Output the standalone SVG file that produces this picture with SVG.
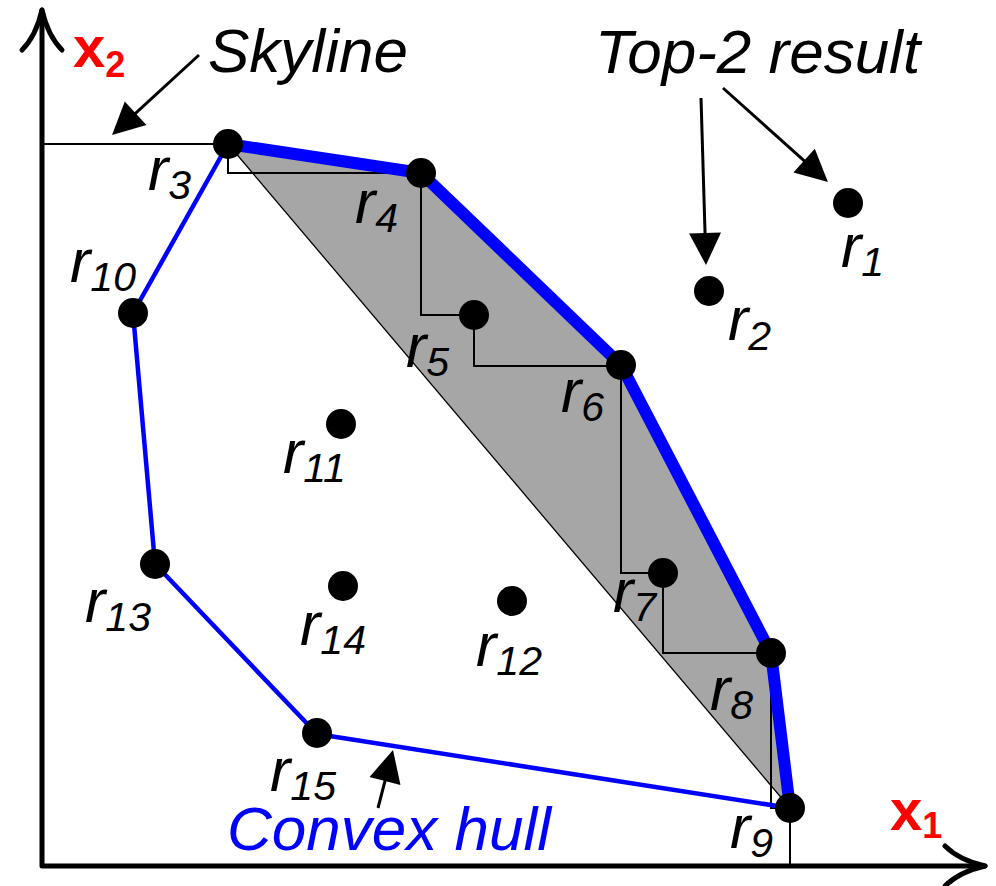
<svg xmlns="http://www.w3.org/2000/svg" width="996" height="886" viewBox="0 0 996 886">
<style>
.lbl{font-family:"Liberation Sans",Arial,sans-serif;font-style:italic;font-size:61px;fill:#000}
.big{font-size:62px}
.sub{font-size:41px}
.ax{font-family:"Liberation Sans",Arial,sans-serif;font-weight:bold;font-size:58px;fill:#ff0000}
.axs{font-size:36px}
.dot{fill:#000}
.axis{fill:none;stroke:#000;stroke-width:5;stroke-linecap:round;stroke-linejoin:round}
.arr{stroke:#000;stroke-width:3;fill:none;marker-end:url(#head)}
</style>
<defs>
<marker id="head" markerUnits="userSpaceOnUse" markerWidth="34" markerHeight="34" viewBox="0 -17 32 34" refX="22" refY="0" orient="auto">
<path d="M0,-16 L32,0 L0,16 z" fill="#000"/>
</marker>
</defs>
<rect width="996" height="886" fill="#fff"/>
<g id="region">
<polygon points="228,144 421,173 621,365 771,653 790,808" fill="#a6a6a6"/>
</g>
<g id="connectors">
<path d="M42,144 H228 V173 H421 V315 H474 V366 H621 V573 H663 V653 H771 V808 H790 V866" fill="none" stroke="#000" stroke-width="2"/>
<line x1="228" y1="144" x2="790" y2="808" stroke="#000" stroke-width="1.3"/>
<polyline points="228,144 421,173 621,365 771,653 790,808" fill="none" stroke="#0000ff" stroke-width="12" stroke-linejoin="round"/>
<polyline points="228,144 133,313 155,564 317,734 790,808" fill="none" stroke="#0000ff" stroke-width="4.5" stroke-linejoin="round"/>
<line class="arr" x1="199" y1="55" x2="119.4" y2="128.2"/>
<line class="arr" x1="701" y1="98" x2="705.7" y2="255"/>
<line class="arr" x1="723" y1="88" x2="820.5" y2="175.3"/>
<line class="arr" x1="378" y1="808" x2="390.5" y2="759.7"/>
</g>
<g id="axes">
<path class="axis" d="M42,866 V10 M42,866 H985"/>
<path class="axis" d="M22,50 Q36,36 42,10 Q48,36 62,50"/>
<path class="axis" d="M945,846 Q959,860 985,866 Q959,872 945,886"/>
<text class="ax" x="73" y="67">x<tspan class="axs" dy="10">2</tspan></text>
<text class="ax" x="890" y="830">x<tspan class="axs" dy="8">1</tspan></text>
</g>
<g id="annotations">
<text class="lbl big" x="208" y="72">Skyline</text>
<text class="lbl big" x="595" y="73">Top-2 result</text>
<text class="lbl big" x="227" y="850" style="fill:#0000ff">Convex hull</text>
</g>
<g id="r1"><circle class="dot" cx="848" cy="203" r="15"/><text class="lbl" x="841" y="267">r<tspan class="sub" dy="9">1</tspan></text></g>
<g id="r2"><circle class="dot" cx="709" cy="291" r="15"/><text class="lbl" x="728" y="340">r<tspan class="sub" dy="10">2</tspan></text></g>
<g id="r3"><circle class="dot" cx="228" cy="144" r="15"/><text class="lbl" x="148" y="190">r<tspan class="sub" dy="9">3</tspan></text></g>
<g id="r4"><circle class="dot" cx="421" cy="173" r="15"/><text class="lbl" x="355" y="223">r<tspan class="sub" dy="9">4</tspan></text></g>
<g id="r5"><circle class="dot" cx="474" cy="315" r="15"/><text class="lbl" x="406" y="367">r<tspan class="sub" dy="9">5</tspan></text></g>
<g id="r6"><circle class="dot" cx="621" cy="365" r="15"/><text class="lbl" x="561" y="412">r<tspan class="sub" dy="9">6</tspan></text></g>
<g id="r7"><circle class="dot" cx="663" cy="573" r="15"/><text class="lbl" x="613" y="612">r<tspan class="sub" dy="9">7</tspan></text></g>
<g id="r8"><circle class="dot" cx="771" cy="653" r="15"/><text class="lbl" x="710" y="710">r<tspan class="sub" dy="9">8</tspan></text></g>
<g id="r9"><circle class="dot" cx="790" cy="808" r="15"/><text class="lbl" x="730" y="848">r<tspan class="sub" dy="9">9</tspan></text></g>
<g id="r10"><circle class="dot" cx="133" cy="313" r="15"/><text class="lbl" x="70" y="282">r<tspan class="sub" dy="9">10</tspan></text></g>
<g id="r11"><circle class="dot" cx="341" cy="424" r="15"/><text class="lbl" x="283" y="473">r<tspan class="sub" dy="9">11</tspan></text></g>
<g id="r12"><circle class="dot" cx="512" cy="601" r="15"/><text class="lbl" x="476" y="666">r<tspan class="sub" dy="9">12</tspan></text></g>
<g id="r13"><circle class="dot" cx="155" cy="564" r="15"/><text class="lbl" x="85" y="622">r<tspan class="sub" dy="9">13</tspan></text></g>
<g id="r14"><circle class="dot" cx="343" cy="586" r="15"/><text class="lbl" x="300" y="645">r<tspan class="sub" dy="9">14</tspan></text></g>
<g id="r15"><circle class="dot" cx="317" cy="733" r="15"/><text class="lbl" x="270" y="791">r<tspan class="sub" dy="9">15</tspan></text></g>
</svg>
